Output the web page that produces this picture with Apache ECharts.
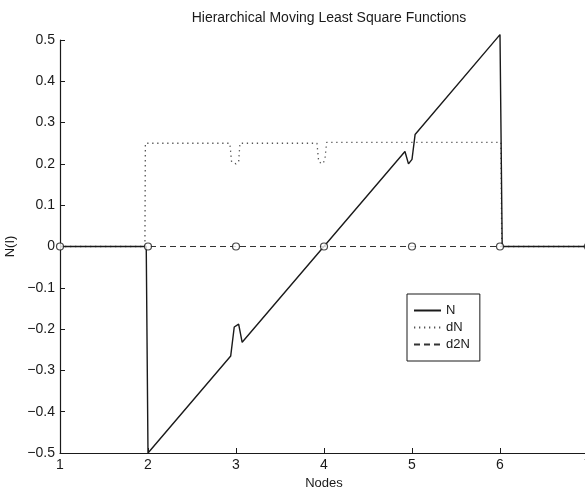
<!DOCTYPE html>
<html>
<head>
<meta charset="utf-8">
<script src="https://cdn.jsdelivr.net/npm/echarts@6/dist/echarts.min.js"></script>
<style>html,body{margin:0;padding:0;background:#fff}#c{width:585px;height:487px}</style>
</head>
<body>
<div id="c"></div>
<script>
const titleText = 'Hierarchical Moving Least Square Functions';
const xTicks = [1, 2, 3, 4, 5, 6, 7];
const yTicks = [-0.5, -0.4, -0.3, -0.2, -0.1, 0, 0.1, 0.2, 0.3, 0.4, 0.5];

// N (solid)
const nX = [1, 1.98, 2.0, 2.94, 2.98, 3.03, 3.07, 4.92, 4.96, 5.0, 5.035, 6.0, 6.025, 7];
const nY = [0, 0, -0.5, -0.265, -0.195, -0.188, -0.232, 0.23, 0.2, 0.211, 0.271, 0.513, 0, 0];
// dN (dotted)
const dnX = [1, 1.965, 1.97, 2.93, 2.95, 3.0, 3.03, 3.045, 3.92, 3.94, 3.985, 4.01, 4.03, 6.01, 6.02, 7];
const dnY = [0, 0, 0.25, 0.25, 0.205, 0.2, 0.205, 0.25, 0.25, 0.205, 0.2, 0.21, 0.252, 0.252, 0, 0];
// d2N (dashed)
const d2nX = [1, 7];
const d2nY = [0, 0];
// nodes (circles)
const nodeX = [1, 2, 3, 4, 5, 6, 7];
const nodeY = [0, 0, 0, 0, 0, 0, 0];

const zip = (a, b) => a.map((v, i) => [v, b[i]]);
const fmt = v => {
  const r = Math.round(v * 10) / 10;
  if (r === 0) return '0';
  return (r < 0 ? '\u2212' : '') + Math.abs(r).toString();
};
const font = 'Liberation Sans, Arial, Helvetica, sans-serif';
const ink = '#1a1a1a';

const chart = echarts.init(document.getElementById('c'), null, {renderer: 'canvas'});
chart.setOption({
  animation: false,
  backgroundColor: '#fff',
  title: {
    text: titleText,
    left: 324, top: 6, textAlign: 'center',
    textStyle: {fontFamily: font, fontSize: 14, fontWeight: 'normal', color: ink}
  },
  legend: {
    orient: 'vertical',
    left: 407, top: 294,
    data: ['N', 'dN', 'd2N'],
    borderColor: ink, borderWidth: 1,
    padding: [10, 10, 10, 6],
    itemWidth: 27, itemHeight: 12, itemGap: 4,
    itemStyle: {opacity: 0},
    textStyle: {fontFamily: font, fontSize: 13, color: ink}
  },
  grid: {left: 60, top: 40, width: 528, height: 413, containLabel: false, outerBoundsMode: 'none'},
  xAxis: {
    type: 'value', min: 1, max: 7, interval: 1,
    name: 'Nodes', nameLocation: 'middle', nameGap: 21,
    nameTextStyle: {fontFamily: font, fontSize: 13, color: ink},
    axisLine: {show: true, onZero: false, lineStyle: {color: ink, width: 1.2}},
    axisTick: {show: true, inside: true, length: 5, lineStyle: {color: ink}},
    axisLabel: {fontFamily: font, fontSize: 14, color: ink, margin: 5,
      formatter: v => xTicks.includes(v) ? String(v) : ''},
    splitLine: {show: false}
  },
  yAxis: {
    type: 'value', min: -0.5, max: 0.5, interval: 0.1,
    name: 'N(I)', nameLocation: 'middle', nameGap: 43, nameRotate: 90,
    nameTextStyle: {fontFamily: font, fontSize: 13, color: ink},
    axisLine: {show: true, onZero: false, lineStyle: {color: ink, width: 1.2}},
    axisTick: {show: true, inside: true, length: 5, lineStyle: {color: ink}},
    axisLabel: {fontFamily: font, fontSize: 14, color: ink, margin: 5, formatter: fmt},
    splitLine: {show: false}
  },
  series: [
    {name: 'd2N', type: 'line', data: zip(d2nX, d2nY), symbol: 'none', clip: false,
      lineStyle: {color: '#333', width: 1.1, type: [6, 4]}, itemStyle: {color: '#333'}, z: 2},
    {name: 'dN', type: 'line', data: zip(dnX, dnY), symbol: 'none', clip: false,
      lineStyle: {color: '#555', width: 1.3, type: [1.3, 3.7]}, itemStyle: {color: '#555'}, z: 3},
    {name: 'N', type: 'line', data: zip(nX, nY), symbol: 'none', clip: false,
      lineStyle: {color: ink, width: 1.4}, itemStyle: {color: ink}, z: 4},
    {name: 'nodes', type: 'scatter', data: zip(nodeX, nodeY), symbol: 'circle', symbolSize: 7, clip: false,
      itemStyle: {color: '#fff', borderColor: ink, borderWidth: 1.2}, z: 5}
  ]
});
</script>
</body>
</html>
